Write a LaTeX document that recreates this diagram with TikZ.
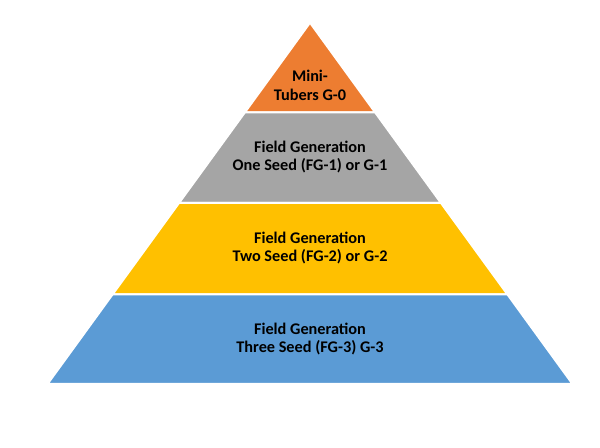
\documentclass[tikz,border=0pt]{standalone}
\usepackage{fontspec}
\setmainfont{Carlito}
\usepackage{tikz}
\definecolor{tuberorange}{HTML}{ED7D31}
\definecolor{seedgray}{HTML}{A5A5A5}
\definecolor{seedyellow}{HTML}{FFC000}
\definecolor{seedblue}{HTML}{5B9BD5}
\tikzset{x=0.75pt,y=-0.75pt,
  band/.style={draw=white,line width=1.5pt,line join=miter},
  level/.style={align=center,font=\fontsize{12.2}{14}\selectfont\bfseries,text=black,inner sep=0pt}}

\begin{document}
\begin{tikzpicture}
    \useasboundingbox (0,0) rectangle (600,448);
    \fill[white] (0,0) rectangle (600,448);
    \filldraw[band,fill=tuberorange] (310,22.7) -- (375.2,112.5) -- (244.8,112.5) -- cycle;
    \filldraw[band,fill=seedgray] (244.8,112.5) -- (375.2,112.5) -- (441,203) -- (179,203) -- cycle;
    \filldraw[band,fill=seedyellow] (179,203) -- (441,203) -- (507.5,294.5) -- (112.5,294.5) -- cycle;
    \filldraw[band,fill=seedblue] (112.5,294.5) -- (507.5,294.5) -- (572.5,384) -- (47.5,384) -- cycle;
    \node[level] (g0) at (310,85.5) {Mini-\\Tubers G-0};
    \node[level] (g1) at (310,157) {Field Generation\\One Seed (FG-1) or G-1};
    \node[level] (g2) at (310,248) {Field Generation\\Two Seed (FG-2) or G-2};
    \node[level] (g3) at (310,339) {Field Generation\\Three Seed (FG-3) G-3};
\end{tikzpicture}
\end{document}
